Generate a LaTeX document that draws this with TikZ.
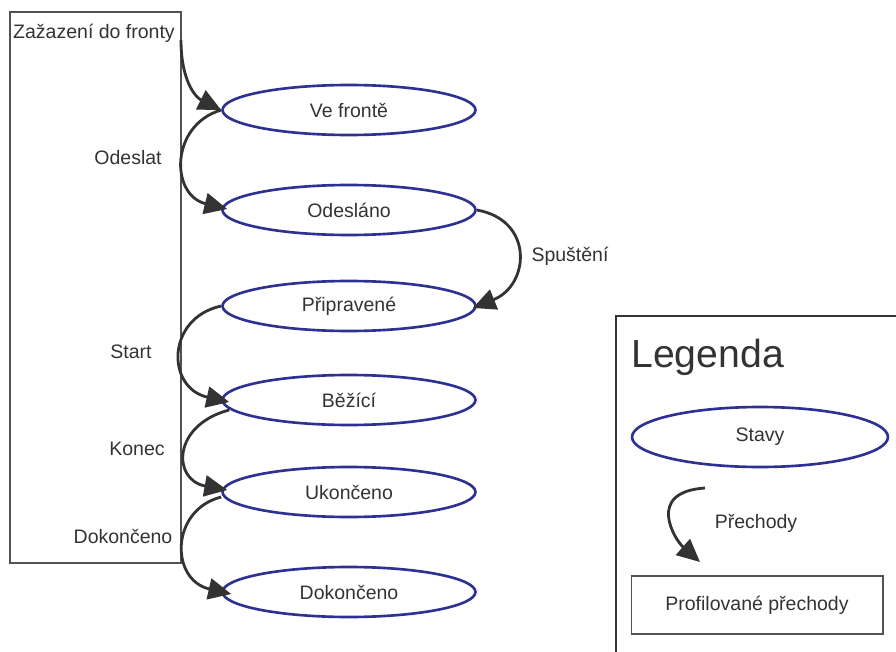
\documentclass[tikz,border=0pt]{standalone}
\usepackage{fontspec}
\setmainfont{Liberation Sans}
\usetikzlibrary{shapes.geometric,arrows.meta}
\definecolor{stavmodra}{HTML}{2E3192}
\definecolor{seda}{HTML}{333333}
\begin{document}
\begin{tikzpicture}[x=0.02cm,y=-0.02cm,font=\fontsize{11.1}{13}\selectfont,text=seda,
  stav/.style={ellipse,draw=stavmodra,line width=1.5pt,minimum width=5.06cm,minimum height=1cm,inner sep=0pt},
  prechod/.style={draw=seda,line width=1.6pt,-{Triangle[length=13pt,width=12pt]}},
  ramec/.style={draw=seda!85,line width=0.6pt}]
  \useasboundingbox (0,0) rectangle (896,652);
  \draw[ramec] (10,12) rectangle (181,563);
  \node (zarazeni) at (94,33) {Zažazení do fronty};
  \coordinate (vstup) at (181,40);
  \node[stav] (fronta) at (349,110) {Ve frontě};
  \node[stav] (odeslano) at (349,210) {Odesláno};
  \node[stav] (pripravene) at (349,306) {Připravené};
  \node[stav] (bezici) at (349,400) {Běžící};
  \node[stav] (ukonceno) at (349,492) {Ukončeno};
  \node[stav] (dokonceno) at (349,592) {Dokončeno};
  \draw[prechod] (vstup) .. controls (181,80) and (195,97) .. (fronta.west);
  \draw[prechod] (fronta.west) .. controls (170,125) and (170,195) .. ([shift={(6,-1)}]odeslano.west);
  \draw[prechod] (odeslano.east) .. controls (534,220) and (530,285) .. ([shift={(-4,2)}]pripravene.east);
  \draw[prechod] (pripravene.west) .. controls (166,318) and (166,388) .. ([shift={(8,2)}]bezici.west);
  \draw[prechod] ([shift={(8,10)}]bezici.west) .. controls (172,425) and (172,480) .. ([shift={(6,-2)}]ukonceno.west);
  \draw[prechod] ([shift={(0,5)}]ukonceno.west) .. controls (170,510) and (170,580) .. ([shift={(10,2)}]dokonceno.west);
  \node (odeslat) at (128,158) {Odeslat};
  \node (spusteni) at (570,256) {Spuštění};
  \node (start) at (131,352) {Start};
  \node (konec) at (137,449) {Konec};
  \node (dokoncit) at (123,536) {Dokončeno};
  \draw[draw=seda,line width=1.6pt] (616,652) -- (616,316) -- (896,316);
  \node[anchor=base west,inner sep=0pt,font=\fontsize{22.3}{26}\selectfont] (legenda) at (631,367) {Legenda};
  \node[stav,minimum width=5.12cm,minimum height=1.2cm] (stavy) at (760,437) {Stavy};
  \coordinate (pzac) at (705,488);
  \coordinate (pkon) at (700,562);
  \draw[prechod] (pzac) .. controls (645,492) and (675,540) .. (pkon);
  \node (prechody) at (756,523) {Přechody};
  \node[ramec,minimum width=5.04cm,minimum height=1.16cm] (profil) at (757,605) {Profilované přechody};
\end{tikzpicture}
\end{document}
